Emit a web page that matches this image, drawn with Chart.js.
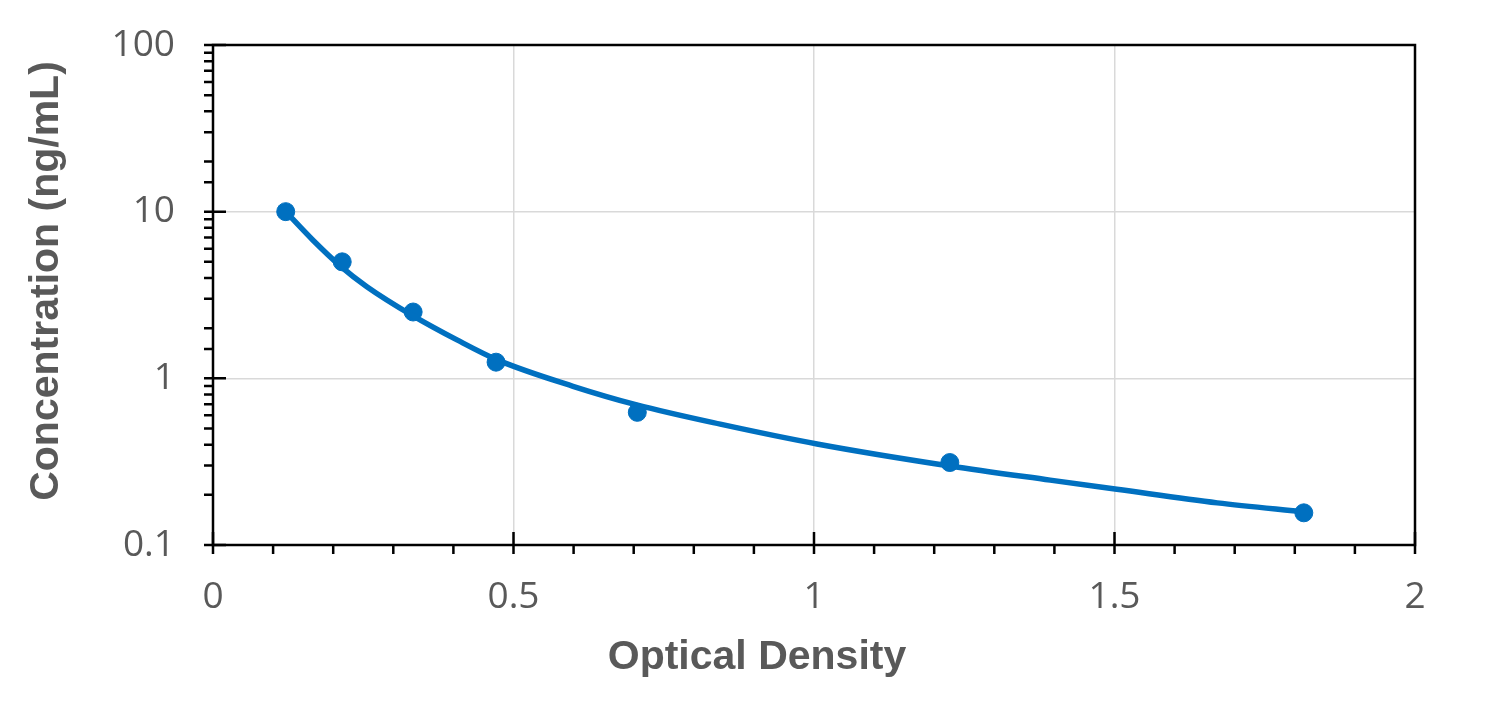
<!DOCTYPE html>
<html>
<head>
<meta charset="utf-8">
<script src="https://cdn.jsdelivr.net/npm/chart.js@4"></script>
<style>
  body { margin: 0; background: #fff; }
</style>
</head>
<body>
<canvas id="chart" width="1498" height="701"></canvas>
<script>
// Standard points (optical density / concentration)
const odValues = [0.121, 0.215, 0.333, 0.471, 0.706, 1.226, 1.815];
const concValues = [10, 5, 2.5, 1.25, 0.625, 0.3125, 0.156];

// Fitted curve
const curveOd = [0.121, 0.166, 0.211, 0.256, 0.333, 0.406, 0.473, 0.599, 0.705, 0.844, 1.005, 1.226, 1.393, 1.504, 1.671, 1.817];
const curveConc = [10.0, 6.76, 4.75, 3.55, 2.37, 1.70, 1.29, 0.896, 0.693, 0.531, 0.404, 0.298, 0.245, 0.216, 0.179, 0.158];

const xTickLabels = ['0', '0.5', '1', '1.5', '2'];
const yTickLabels = ['0.1', '1', '10', '100'];

const blue = '#0070C0';
const textGrey = '#595959';

const isXMajor = v => Math.abs(v * 2 - Math.round(v * 2)) < 1e-6;
const isYMajor = v => Math.abs(Math.log10(v) - Math.round(Math.log10(v))) < 1e-6;

const frame = {
    id: 'frame',
    afterDraw(chart) {
        const ctx = chart.ctx;
        const area = chart.chartArea;
        const x = chart.scales.x;
        const y = chart.scales.y;
        ctx.save();
        ctx.strokeStyle = '#000';
        ctx.lineWidth = 2.5;
        ctx.strokeRect(area.left, area.top, area.right - area.left, area.bottom - area.top);

        ctx.beginPath();
        x.ticks.forEach(t => {
            const px = x.getPixelForValue(t.value);
            const top = isXMajor(t.value) ? area.bottom - 13 : area.bottom;
            ctx.moveTo(px, top);
            ctx.lineTo(px, area.bottom + 9);
        });
        y.ticks.forEach(t => {
            const py = y.getPixelForValue(t.value);
            const right = isYMajor(t.value) ? area.left + 13 : area.left;
            ctx.moveTo(area.left - 9, py);
            ctx.lineTo(right, py);
        });
        ctx.stroke();

        // axis titles
        ctx.fillStyle = textGrey;
        ctx.font = 'bold 41px "Liberation Sans", Arial, sans-serif';
        ctx.textAlign = 'center';
        ctx.textBaseline = 'middle';
        ctx.fillText('Optical Density', 757, 658);
        ctx.translate(47, 281);
        ctx.rotate(-Math.PI / 2);
        ctx.fillText('Concentration (ng/mL)', 0, 0);
        ctx.restore();
    }
};

new Chart(document.getElementById('chart'), {
    type: 'scatter',
    data: {
        datasets: [{
            type: 'scatter',
            label: 'Standards',
            data: odValues.map((v, i) => ({ x: v, y: concValues[i] })),
            backgroundColor: blue,
            borderColor: blue,
            pointRadius: 9,
            pointHoverRadius: 9,
            order: 2
        }, {
            type: 'line',
            label: 'Fit',
            data: curveOd.map((v, i) => ({ x: v, y: curveConc[i] })),
            borderColor: blue,
            borderWidth: 5.5,
            pointRadius: 0,
            fill: false,
            cubicInterpolationMode: 'monotone',
            order: 1
        }]
    },
    options: {
        responsive: false,
        animation: false,
        layout: { padding: { left: 0, right: 83, top: 45, bottom: 0 } },
        plugins: {
            legend: { display: false },
            tooltip: { enabled: false }
        },
        scales: {
            x: {
                type: 'linear',
                min: 0,
                max: 2,
                afterFit: s => { s.height = 156; s.paddingLeft = 0; s.paddingRight = 0; },
                border: { display: false },
                grid: {
                    drawTicks: false,
                    lineWidth: 1.5,
                    color: c => isXMajor(c.tick.value) ? '#d9d9d9' : 'rgba(0,0,0,0)'
                },
                ticks: {
                    stepSize: 0.1,
                    autoSkip: false,
                    maxRotation: 0,
                    padding: 30,
                    color: textGrey,
                    font: { family: '"Open Sans", sans-serif', size: 37 },
                    callback: v => isXMajor(v) ? xTickLabels[Math.round(v * 2)] : ''
                }
            },
            y: {
                type: 'logarithmic',
                min: 0.1,
                max: 100,
                afterFit: s => { s.width = 213; s.paddingTop = 0; s.paddingBottom = 0; },
                border: { display: false },
                grid: {
                    drawTicks: false,
                    lineWidth: 1.5,
                    color: c => isYMajor(c.tick.value) ? '#d9d9d9' : 'rgba(0,0,0,0)'
                },
                ticks: {
                    autoSkip: false,
                    padding: 38,
                    color: textGrey,
                    font: { family: '"Open Sans", sans-serif', size: 37 },
                    callback: v => isYMajor(v) ? yTickLabels[Math.round(Math.log10(v)) + 1] : ''
                }
            }
        }
    },
    plugins: [frame]
});
</script>
</body>
</html>
